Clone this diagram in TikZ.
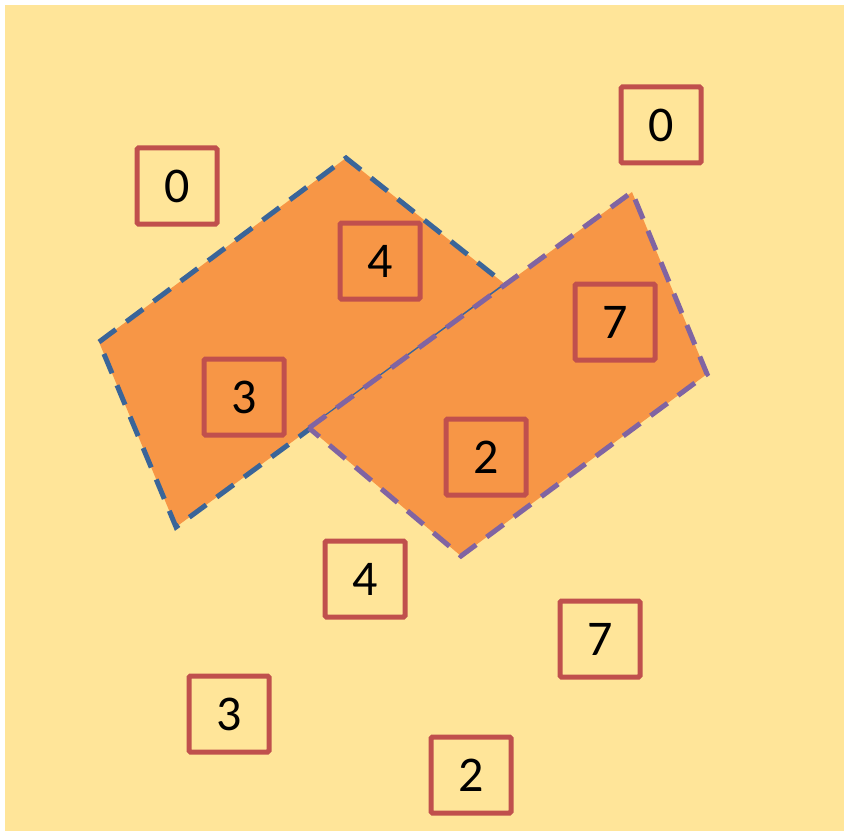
\documentclass[tikz,border=0pt]{standalone}
\usepackage{fontspec}
\setmainfont{Carlito}
\definecolor{bgy}{HTML}{FFE599}
\definecolor{org}{HTML}{F79646}
\definecolor{bdash}{HTML}{3A6599}
\definecolor{pdash}{HTML}{8064A2}
\definecolor{rbox}{HTML}{C0504D}
\tikzset{
  numbox/.style={draw=rbox, line width=5pt, minimum width=80pt, minimum height=76pt,
    inner sep=0pt, rounded corners=1.5pt, font=\fontsize{50}{50}\selectfont, text=black},
  dashpat/.style={line width=5pt, dash pattern=on 21pt off 13pt, line join=miter},
}
\begin{document}
\begin{tikzpicture}[x=1pt,y=-1pt]
\fill[white] (0,0) rectangle (844,832);
\useasboundingbox (0,0) rectangle (844,832);
\fill[bgy] (5,5) rectangle (844,831);
% blue-edged shape
\coordinate (bL) at (99,342);
\coordinate (bT) at (346,158);
\coordinate (bR) at (506,285);
\coordinate (bB) at (176,527);
\filldraw[fill=org, draw=bdash, dashpat] (bL) -- (bT) -- (bR) -- (bB) -- cycle;
% purple-edged shape
\coordinate (pL) at (309,428);
\coordinate (pT) at (632,192);
\coordinate (pR) at (707,374);
\coordinate (pB) at (461,556);
\filldraw[fill=org, draw=pdash, dashpat] (pL) -- (pT) -- (pR) -- (pB) -- cycle;
% number boxes
\node[numbox] (a0) at (177,186) {0};
\node[numbox] (b0) at (661,125) {0};
\node[numbox] (a4) at (380,261) {4};
\node[numbox] (a7) at (615,322) {7};
\node[numbox] (a3) at (244,397) {3};
\node[numbox] (a2) at (486,457) {2};
\node[numbox] (b4) at (365,579) {4};
\node[numbox] (b7) at (600,639) {7};
\node[numbox] (b3) at (229,714) {3};
\node[numbox] (b2) at (471,775) {2};
\end{tikzpicture}
\end{document}
